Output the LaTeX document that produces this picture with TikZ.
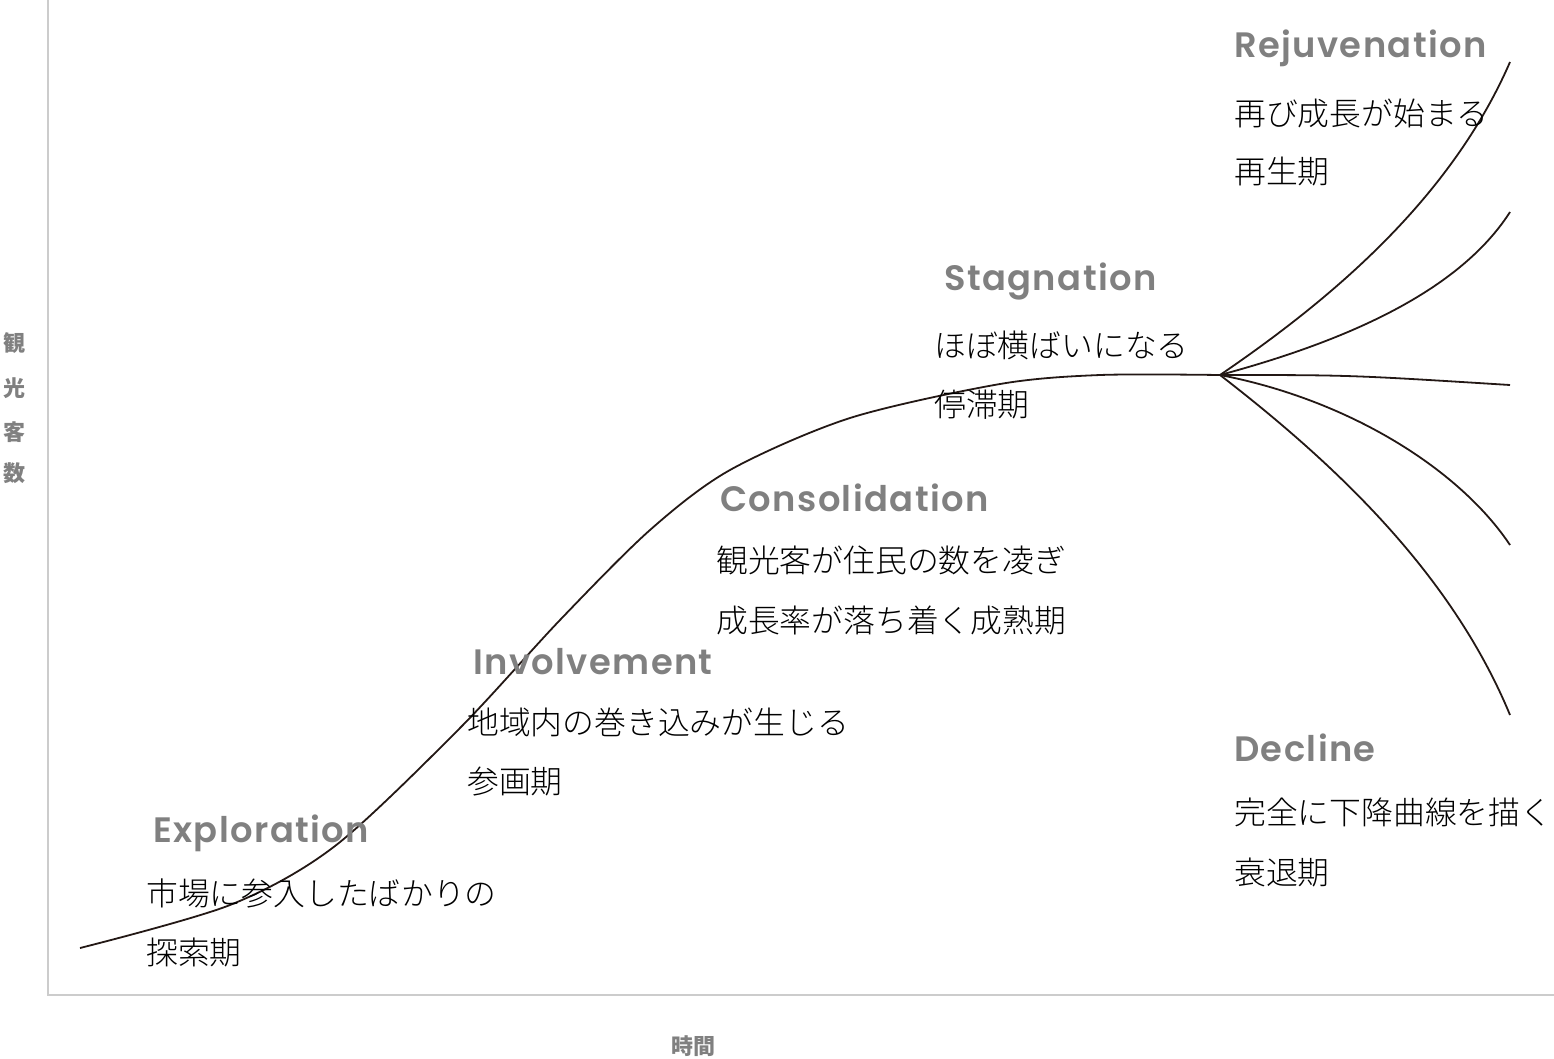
\documentclass[tikz,border=0pt]{standalone}
\usepackage{fontspec}
\newfontfamily\jp{Noto Sans CJK JP}[UprightFont=* Light,BoldFont=* Bold]
\newfontfamily\jpb{Noto Sans CJK JP}
\newfontfamily\headfont{Poppins}[LetterSpace=4,UprightFont=* SemiBold]
\definecolor{headgray}{HTML}{808080}
\definecolor{axisgray}{HTML}{CCCCCC}
\definecolor{curvecol}{HTML}{231815}
\begin{document}
\begin{tikzpicture}[x=1pt,y=-1pt,
  head/.style={anchor=west,inner sep=0pt,text=headgray,font=\headfont\fontsize{35.3}{40}\selectfont},
  desc/.style={anchor=west,inner sep=0pt,text=black,font=\jp\fontsize{31.8}{36}\selectfont},
  axlab/.style={inner sep=0pt,text=headgray,font=\jpb\bfseries\fontsize{22}{24}\selectfont},
  axisline/.style={draw=axisgray,line width=1.5pt},
  curve/.style={draw=curvecol,line width=1.8pt}]
\useasboundingbox (0,0) rectangle (1554,1058);
% axes
\coordinate (ytop) at (48,0);
\coordinate (orig) at (48,995);
\coordinate (xend) at (1554,995);
\draw[axisline] (ytop) -- (orig) -- (xend);
% axis labels
\node[axlab] (y1) at (15,343) {観};
\node[axlab] (y2) at (15,388) {光};
\node[axlab] (y3) at (15,432) {客};
\node[axlab] (y4) at (15,473) {数};
\node[axlab] (xl) at (693,1046) {時間};
% main curve
\coordinate (start) at (80,948);
\coordinate (fork) at (1220,375);
\draw[curve] plot[smooth,tension=0.5] coordinates {(80,948) (230,905) (335,846) (460,728) (560,620) (650,530) (730,470) (850,418) (1000,384) (1100,375) (1220,375)};
% branches
\coordinate (b1) at (1510,62);
\coordinate (b2) at (1510,212);
\coordinate (b3) at (1510,385);
\coordinate (b4) at (1510,545);
\coordinate (b5) at (1510,715);
\draw[curve] (fork) .. controls (1330,300) and (1450,200) .. (b1);
\draw[curve] (fork) .. controls (1350,340) and (1460,290) .. (b2);
\draw[curve] (fork) .. controls (1350,375) .. (b3);
\draw[curve] (fork) .. controls (1350,400) and (1460,470) .. (b4);
\draw[curve] (fork) .. controls (1330,460) and (1450,570) .. (b5);
% labels
\node[head] (h1) at (153,833) {Exploration};
\node[desc] (d1a) at (146,893) {市場に参入したばかりの};
\node[desc] (d1b) at (146,952) {探索期};
\node[head] (h2) at (473,662) {Involvement};
\node[desc] (d2a) at (467,722) {地域内の巻き込みが生じる};
\node[desc] (d2b) at (467,782) {参画期};
\node[head] (h3) at (720,498) {Consolidation};
\node[desc] (d3a) at (716,560) {観光客が住民の数を凌ぎ};
\node[desc] (d3b) at (716,620) {成長率が落ち着く成熟期};
\node[head] (h4) at (944,281) {Stagnation};
\node[desc] (d4a) at (934,345) {ほぼ横ばいになる};
\node[desc] (d4b) at (934,405) {停滞期};
\node[head] (h5) at (1234,48) {Rejuvenation};
\node[desc] (d5a) at (1234,113) {再び成長が始まる};
\node[desc] (d5b) at (1234,172) {再生期};
\node[head] (h6) at (1234,748) {Decline};
\node[desc] (d6a) at (1234,812) {完全に下降曲線を描く};
\node[desc] (d6b) at (1234,872) {衰退期};
\end{tikzpicture}
\end{document}
